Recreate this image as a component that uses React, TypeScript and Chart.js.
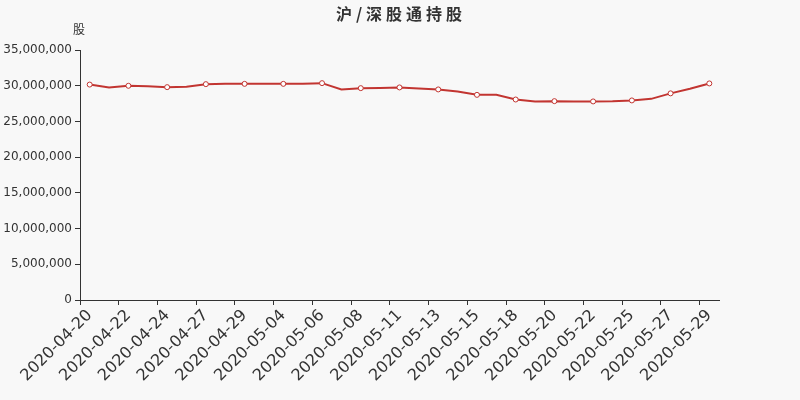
import React, { useEffect, useRef } from "react";
import { Chart, registerables } from "chart.js";

Chart.register(...registerables);

const titleText = "沪/深股通持股";
const yAxisName = "股";

const dates = [
  "2020-04-20", "2020-04-21", "2020-04-22", "2020-04-23", "2020-04-24", "2020-04-26",
  "2020-04-27", "2020-04-28", "2020-04-29", "2020-04-30", "2020-05-04", "2020-05-05",
  "2020-05-06", "2020-05-07", "2020-05-08", "2020-05-09", "2020-05-11", "2020-05-12",
  "2020-05-13", "2020-05-14", "2020-05-15", "2020-05-17", "2020-05-18", "2020-05-19",
  "2020-05-20", "2020-05-21", "2020-05-22", "2020-05-24", "2020-05-25", "2020-05-26",
  "2020-05-27", "2020-05-28", "2020-05-29",
];

const holdings = [
  30160000, 29740000, 29990000, 29940000, 29800000, 29850000,
  30220000, 30260000, 30260000, 30260000, 30260000, 30260000,
  30360000, 29480000, 29660000, 29690000, 29760000, 29620000,
  29480000, 29200000, 28720000, 28720000, 28070000, 27800000,
  27840000, 27800000, 27800000, 27840000, 27940000, 28160000,
  28930000, 29570000, 30320000,
];

const yTicks = [0, 5000000, 10000000, 15000000, 20000000, 25000000, 30000000, 35000000];

export default function App() {
  const ref = useRef<HTMLCanvasElement | null>(null);

  useEffect(() => {
    document.body.style.margin = "0";
    const canvas = ref.current;
    if (!canvas) return;

    const overlay = {
      id: "overlay",
      beforeDraw(chart: any) {
        const ctx = chart.ctx;
        ctx.save();
        ctx.fillStyle = "#f8f8f8";
        ctx.fillRect(0, 0, chart.width, chart.height);
        ctx.restore();
      },
      afterDraw(chart: any) {
        const ctx = chart.ctx;
        ctx.save();
        ctx.fillStyle = "#333";
        ctx.textAlign = "center";
        ctx.textBaseline = "middle";
        ctx.font = "bold 16px 'Noto Sans CJK SC', 'DejaVu Sans', sans-serif";
        try {
          (ctx as any).letterSpacing = "4px";
        } catch (e) {}
        ctx.fillText(titleText, 401, 14);
        try {
          (ctx as any).letterSpacing = "0px";
        } catch (e) {}
        ctx.font = "12px 'Noto Sans CJK SC', 'DejaVu Sans', sans-serif";
        ctx.fillText(yAxisName, 79, 29);
        ctx.restore();
      },
    };

    const chart = new Chart(canvas, {
      type: "line",
      data: {
        labels: dates,
        datasets: [
          {
            data: holdings,
            borderColor: "#c23531",
            borderWidth: 2,
            backgroundColor: "#ffffff",
            pointBackgroundColor: "#ffffff",
            pointBorderColor: "#c23531",
            pointBorderWidth: 1,
            pointRadius: holdings.map((_, i) => (i % 2 === 0 ? 2.5 : 0)),
            tension: 0,
            fill: false,
          },
        ],
      },
      options: {
        responsive: false,
        animation: false,
        layout: { padding: { left: 0, right: 81, top: 50, bottom: 0 } },
        plugins: {
          legend: { display: false },
          title: { display: false },
          tooltip: { enabled: false },
        },
        scales: {
          x: {
            type: "category",
            offset: true,
            afterFit(scale: any) {
              scale.height = 100;
            },
            border: { display: true, color: "#333", width: 1 },
            grid: {
              offset: true,
              drawOnChartArea: false,
              drawTicks: true,
              tickLength: 5,
              color: (c: any) => (c.index % 2 === 0 ? "#333" : "rgba(0,0,0,0)"),
            },
            ticks: {
              autoSkip: false,
              maxRotation: 45,
              minRotation: 45,
              padding: 1,
              color: "#333",
              font: { size: 16, family: "'DejaVu Sans', sans-serif" },
              callback: (_v: any, i: number) => (i % 2 === 0 ? dates[i] : ""),
            },
          },
          y: {
            min: 0,
            max: 35000000,
            afterFit(scale: any) {
              scale.width = 80;
            },
            afterBuildTicks(scale: any) {
              scale.ticks = yTicks.map((v) => ({ value: v }));
            },
            border: { display: true, color: "#333", width: 1 },
            grid: {
              drawOnChartArea: false,
              drawTicks: true,
              tickLength: 5,
              color: "#333",
            },
            ticks: {
              padding: 3,
              color: "#333",
              font: { size: 12, family: "'DejaVu Sans', sans-serif" },
              callback: (v: any) => Number(v).toLocaleString("en-US"),
            },
          },
        },
      },
      plugins: [overlay],
    });

    return () => chart.destroy();
  }, []);

  return (
    <div style={{ position: "fixed", left: 0, top: 0, width: 800, height: 400 }}>
      <canvas ref={ref} width={800} height={400} style={{ width: 800, height: 400 }} />
    </div>
  );
}
